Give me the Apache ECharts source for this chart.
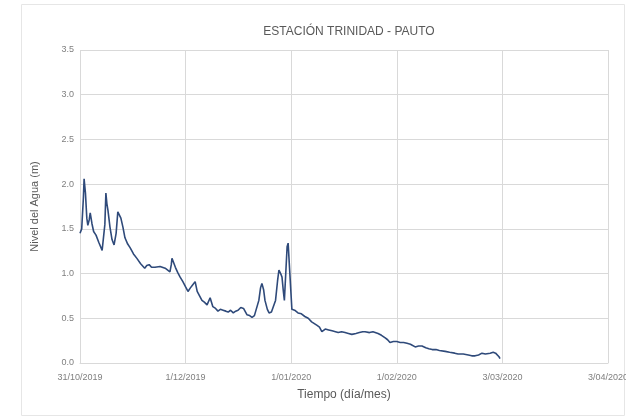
<!DOCTYPE html>
<html>
<head>
<meta charset="utf-8">
<script src="https://cdn.jsdelivr.net/npm/echarts@6/dist/echarts.min.js"></script>
<style>
  html, body { margin: 0; padding: 0; background: #fff; }
  #chart { width: 626px; height: 418px; }
</style>
</head>
<body>
<div id="chart"></div>
<script>
// days since 31/10/2019
var dayOffsets = [
  0, 0.5, 1.0, 1.2, 1.6, 2.0, 2.3, 2.7, 3.0, 3.5, 4.0, 4.7, 5.5, 6.5, 7.0,
  7.3, 7.6, 7.9, 8.2, 8.8, 9.4, 10.0, 10.6, 11.1, 11.5, 12.0, 12.6, 13.2, 14.0,
  14.7, 15.7, 16.7, 17.8, 19.0, 19.6, 20.3, 21.0, 22.0, 23.5, 25.0, 26.4, 26.8,
  27.0, 27.5, 28.0, 28.7, 29.4, 30.2, 31.0, 31.7, 32.4, 33.0, 33.8, 34.4, 35.1,
  35.8, 36.5, 37.3, 38.2, 39.0, 39.8, 40.5, 41.2, 42.0, 42.8, 43.5, 44.2, 45.0,
  45.7, 46.4, 47.2, 48.0, 49.0, 49.8, 50.5, 51.2, 51.7, 52.5, 53.0, 53.4, 53.9,
  54.3, 55.0, 55.5, 56.2, 56.7, 57.4, 58.0, 58.4, 58.9, 59.3, 59.7, 60.0, 60.4,
  60.8, 61.1, 62.2, 63.0, 64.0, 65.0, 66.0, 67.0, 68.0, 68.8, 69.6, 70.3, 71.0,
  72.0, 73.0, 74.0, 75.0, 75.8, 76.8, 77.8, 78.8, 79.8, 81.0, 82.0, 83.0, 83.7,
  85.0, 86.0, 87.5, 88.5, 89.6, 90.3, 91.0, 92.0, 93.0, 94.0, 95.0, 96.0, 97.0,
  98.4, 99.4, 100.4, 101.5, 102.4, 103.4, 104.5, 105.5, 107.2, 108.5, 110.0, 111.0,
  112.5, 114.0, 115.0, 116.0, 117.0, 118.0, 119.0, 120.4, 121.3, 122.0, 122.4,
  123.0, 123.3
];
var waterLevel = [
  1.45, 1.50, 1.85, 2.06, 1.90, 1.62, 1.54, 1.60, 1.68, 1.56, 1.47, 1.43, 1.35, 1.26, 1.25,
  1.55, 1.90, 1.78, 1.71, 1.52, 1.38, 1.32, 1.45, 1.69, 1.66, 1.62, 1.52, 1.40, 1.33,
  1.29, 1.22, 1.17, 1.11, 1.06, 1.09, 1.10, 1.07, 1.07, 1.08, 1.06, 1.02, 1.10,
  1.17, 1.12, 1.07, 1.01, 0.96, 0.91, 0.85, 0.80, 0.84, 0.87, 0.91, 0.80, 0.75,
  0.70, 0.68, 0.65, 0.73, 0.63, 0.61, 0.58, 0.60, 0.59, 0.58, 0.57, 0.59, 0.56,
  0.58, 0.59, 0.62, 0.61, 0.54, 0.53, 0.51, 0.53, 0.54, 0.70, 0.84, 0.89, 0.82,
  0.70, 0.60, 0.56, 0.57, 0.59, 0.70, 0.92, 1.04, 1.00, 0.96, 0.80, 0.70, 1.00,
  1.30, 1.34, 0.60, 0.59, 0.56, 0.55, 0.52, 0.50, 0.46, 0.44, 0.42, 0.40, 0.35,
  0.38, 0.37, 0.36, 0.35, 0.34, 0.35, 0.34, 0.33, 0.32, 0.33, 0.34, 0.35, 0.35,
  0.34, 0.35, 0.33, 0.31, 0.28, 0.26, 0.23, 0.24, 0.24, 0.23, 0.23, 0.22, 0.21,
  0.18, 0.19, 0.19, 0.17, 0.16, 0.15, 0.15, 0.14, 0.13, 0.12, 0.11, 0.10,
  0.10, 0.09, 0.08, 0.08, 0.09, 0.11, 0.10, 0.11, 0.12, 0.11, 0.09,
  0.07, 0.05
];
var xTicks = { min: 0, max: 155, step: 31 };
var yTicks = { min: 0, max: 3.5, step: 0.5 };

var startDate = Date.UTC(2019, 9, 31);
function dayLabel (d) {
  var dt = new Date(startDate + d * 86400000);
  var mm = dt.getUTCMonth() + 1;
  return dt.getUTCDate() + '/' + (mm < 10 ? '0' + mm : mm) + '/' + dt.getUTCFullYear();
}

var chart = echarts.init(document.getElementById('chart'), null, { renderer: 'canvas' });
var axisText = { color: '#7f7f7f', fontFamily: 'Liberation Sans, Arial', fontSize: 9 };
var option = {
  animation: false,
  backgroundColor: '#fff',
  graphic: [{
    type: 'rect',
    shape: { x: 21.5, y: 4.5, width: 603, height: 411 },
    style: { fill: 'none', stroke: '#e6e6e6', lineWidth: 1 },
    silent: true
  }],
  title: {
    text: 'ESTACIÓN TRINIDAD - PAUTO',
    left: 344,
    textAlign: 'center',
    top: 21,
    textStyle: { color: '#595959', fontFamily: 'Liberation Sans, Arial', fontSize: 12, fontWeight: 'normal' }
  },
  grid: { left: 80, right: 18, top: 50, bottom: 55, containLabel: false, outerBoundsMode: 'none' },
  xAxis: {
    type: 'value',
    min: xTicks.min,
    max: xTicks.max,
    interval: xTicks.step,
    name: 'Tiempo (día/mes)',
    nameLocation: 'middle',
    nameGap: 26,
    nameTextStyle: { color: '#595959', fontFamily: 'Liberation Sans, Arial', fontSize: 12 },
    axisLine: { show: true, lineStyle: { color: '#d9d9d9' } },
    axisTick: { show: false },
    splitLine: { show: true, lineStyle: { color: '#d9d9d9' } },
    axisLabel: Object.assign({ margin: 10, formatter: dayLabel, showMaxLabel: true, showMinLabel: true, hideOverlap: false }, axisText)
  },
  yAxis: {
    type: 'value',
    min: yTicks.min,
    max: yTicks.max,
    interval: yTicks.step,
    name: 'Nivel del Agua (m)',
    nameLocation: 'middle',
    nameGap: 40,
    nameTextStyle: { color: '#595959', fontFamily: 'Liberation Sans, Arial', fontSize: 11 },
    axisLine: { show: false },
    axisTick: { show: false },
    splitLine: { show: true, lineStyle: { color: '#d9d9d9' } },
    axisLabel: Object.assign({ margin: 6, formatter: function (v) { return v.toFixed(1) } }, axisText)
  },
  series: [{
    type: 'line',
    data: dayOffsets.map(function (d, i) { return [d, waterLevel[i]] }),
    showSymbol: false,
    lineStyle: { color: '#2f4a7a', width: 1.6 },
    itemStyle: { color: '#2f4a7a' }
  }]
};
chart.setOption(option);
</script>
</body>
</html>
